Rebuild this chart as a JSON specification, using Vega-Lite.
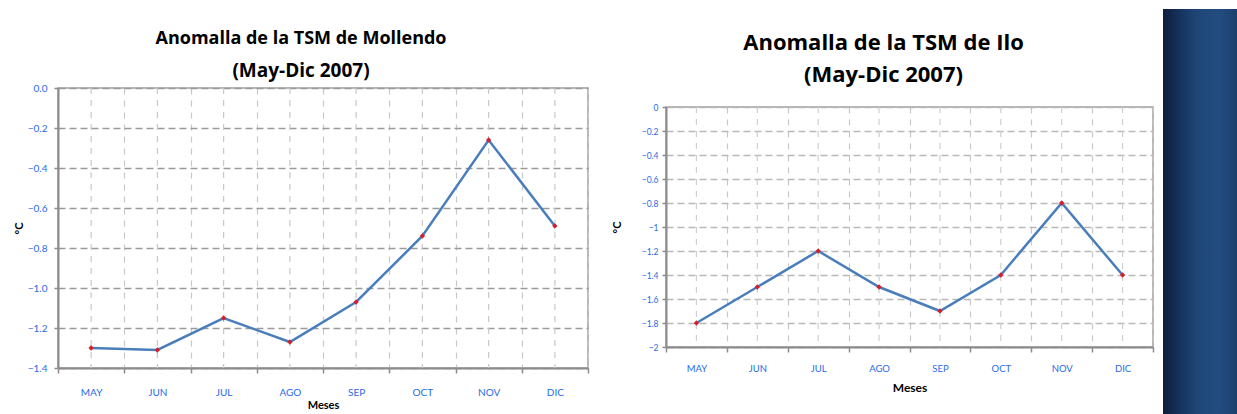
{
  "$schema": "https://vega.github.io/schema/vega-lite/v6.json",
  "background": "white",
  "padding": {"left": 12, "top": 9, "right": 0, "bottom": 0},
  "spacing": 20,
  "datasets": {
    "mollendo": [
      {"mes": "MAY", "valor": -1.30},
      {"mes": "JUN", "valor": -1.31},
      {"mes": "JUL", "valor": -1.15},
      {"mes": "AGO", "valor": -1.27},
      {"mes": "SEP", "valor": -1.07},
      {"mes": "OCT", "valor": -0.74},
      {"mes": "NOV", "valor": -0.26},
      {"mes": "DIC", "valor": -0.69}
    ],
    "ilo": [
      {"mes": "MAY", "valor": -1.8},
      {"mes": "JUN", "valor": -1.5},
      {"mes": "JUL", "valor": -1.2},
      {"mes": "AGO", "valor": -1.5},
      {"mes": "SEP", "valor": -1.7},
      {"mes": "OCT", "valor": -1.4},
      {"mes": "NOV", "valor": -0.8},
      {"mes": "DIC", "valor": -1.4}
    ],
    "vacio": [],
    "banda": [{"franja": "lateral"}]
  },
  "hconcat": [
    {
      "spacing": 0,
      "vconcat": [
        {
          "width": 530,
          "height": 0,
          "data": {"name": "vacio"},
          "view": {"stroke": null},
          "mark": "rule",
          "encoding": {}
        },
        {
          "width": 530,
          "height": 280,
          "data": {"name": "mollendo"},
          "title": {
            "text": "Anomalla de la TSM de Mollendo",
            "subtitle": "(May-Dic 2007)",
            "fontSize": 18,
            "subtitleFontSize": 19,
            "subtitlePadding": 14,
            "offset": 2,
            "dx": -22
          },
          "encoding": {
            "x": {
              "field": "mes",
              "type": "nominal",
              "sort": ["MAY", "JUN", "JUL", "AGO", "SEP", "OCT", "NOV", "DIC"],
              "scale": {"type": "band", "paddingInner": 0, "paddingOuter": 0},
              "axis": {
                "title": "Meses",
                "tickBand": "extent",
                "labelAngle": 0,
                "labelFontSize": 10,
                "labelPadding": 14,
                "titleFontSize": 11,
                "titlePadding": 2
              }
            }
          },
          "layer": [
            {
              "mark": {"type": "rule", "color": "#c8c8c8", "strokeWidth": 1.2, "strokeDash": [6, 6]}
            },
            {
              "mark": {"type": "line", "color": "#4a7ebb", "strokeWidth": 2.5},
              "encoding": {
                "y": {
                  "field": "valor",
                  "type": "quantitative",
                  "scale": {"domain": [-1.4, 0], "nice": false, "zero": false},
                  "axis": {
                    "title": "°C",
                    "values": [0, -0.2, -0.4, -0.6, -0.8, -1.0, -1.2, -1.4],
                    "tickCount": 20,
                    "format": ".1f",
                    "labelOverlap": false,
                    "labelFontSize": 10,
                    "labelPadding": 7,
                    "titleFontSize": 11,
                    "titlePadding": 3
                  }
                }
              }
            },
            {
              "mark": {"type": "point", "shape": "diamond", "filled": true, "color": "#d41f2c", "size": 28, "opacity": 1},
              "encoding": {"y": {"field": "valor", "type": "quantitative"}}
            }
          ]
        }
      ]
    },
    {
      "spacing": 8,
      "hconcat": [
        {
          "spacing": 2,
          "vconcat": [
            {
              "width": 487,
              "height": 0,
              "data": {"name": "vacio"},
              "view": {"stroke": null},
              "mark": "rule",
              "encoding": {}
            },
            {
              "width": 487,
              "height": 240,
              "data": {"name": "ilo"},
              "title": {
                "text": "Anomalla de la TSM de Ilo",
                "subtitle": "(May-Dic 2007)",
                "fontSize": 22,
                "subtitleFontSize": 22,
                "subtitlePadding": 10,
                "offset": 16,
                "dx": -26
              },
              "encoding": {
                "x": {
                  "field": "mes",
                  "type": "nominal",
                  "sort": ["MAY", "JUN", "JUL", "AGO", "SEP", "OCT", "NOV", "DIC"],
                  "scale": {"type": "band", "paddingInner": 0, "paddingOuter": 0},
                  "axis": {
                    "title": "Meses",
                    "tickBand": "extent",
                    "labelAngle": 0,
                    "labelFontSize": 9.5,
                    "labelPadding": 11,
                    "titleFontSize": 12,
                    "titlePadding": 10
                  }
                }
              },
              "layer": [
                {
                  "mark": {"type": "rule", "color": "#cfcfcf", "strokeWidth": 1.2, "strokeDash": [6, 6]}
                },
                {
                  "mark": {"type": "line", "color": "#4a7ebb", "strokeWidth": 2.5},
                  "encoding": {
                    "y": {
                      "field": "valor",
                      "type": "quantitative",
                      "scale": {"domain": [-2, 0], "nice": false, "zero": false},
                      "axis": {
                        "title": "°C",
                        "values": [0, -0.2, -0.4, -0.6, -0.8, -1, -1.2, -1.4, -1.6, -1.8, -2],
                        "tickCount": 20,
                        "format": "~g",
                        "labelOverlap": false,
                        "labelFontSize": 8.5,
                        "labelPadding": 4,
                        "titleFontSize": 11,
                        "titlePadding": 19,
                        "gridColor": "#b8b8b8"
                      }
                    }
                  }
                },
                {
                  "mark": {"type": "point", "shape": "diamond", "filled": true, "color": "#d41f2c", "size": 28, "opacity": 1},
                  "encoding": {"y": {"field": "valor", "type": "quantitative"}}
                }
              ]
            }
          ]
        },
        {
          "width": 74,
          "height": 405,
          "data": {"name": "banda"},
          "view": {"stroke": null},
          "mark": {
            "type": "rect",
            "color": {
              "gradient": "linear",
              "x1": 0, "y1": 0, "x2": 1, "y2": 0,
              "stops": [
                {"offset": 0, "color": "#0d1e3a"},
                {"offset": 0.2, "color": "#15305a"},
                {"offset": 0.45, "color": "#1e4576"},
                {"offset": 0.75, "color": "#234d80"},
                {"offset": 1, "color": "#1c406d"}
              ]
            }
          },
          "encoding": {}
        }
      ]
    }
  ],
  "config": {
    "font": "Open Sans",
    "view": {"stroke": "#a0a0a0", "strokeWidth": 1.5},
    "title": {
      "font": "Open Sans",
      "fontWeight": "bold",
      "color": "#000000",
      "subtitleFont": "Open Sans",
      "subtitleFontWeight": "bold",
      "subtitleColor": "#000000",
      "anchor": "middle"
    },
    "axis": {
      "labelFont": "Lato",
      "labelColor": "#2a6ae8",
      "titleFont": "Lato",
      "titleFontWeight": "bold",
      "titleColor": "#000000",
      "domainColor": "#8c8c8c",
      "domainWidth": 2,
      "tickColor": "#8c8c8c",
      "tickWidth": 1.5,
      "tickSize": 5
    },
    "axisX": {
      "grid": true,
      "gridColor": "#c8c8c8",
      "gridDash": [6, 6],
      "gridWidth": 1.2
    },
    "axisY": {
      "grid": true,
      "gridColor": "#9a9a9a",
      "gridDash": [7, 4],
      "gridWidth": 1.5,
      "tickSize": 4
    }
  }
}
